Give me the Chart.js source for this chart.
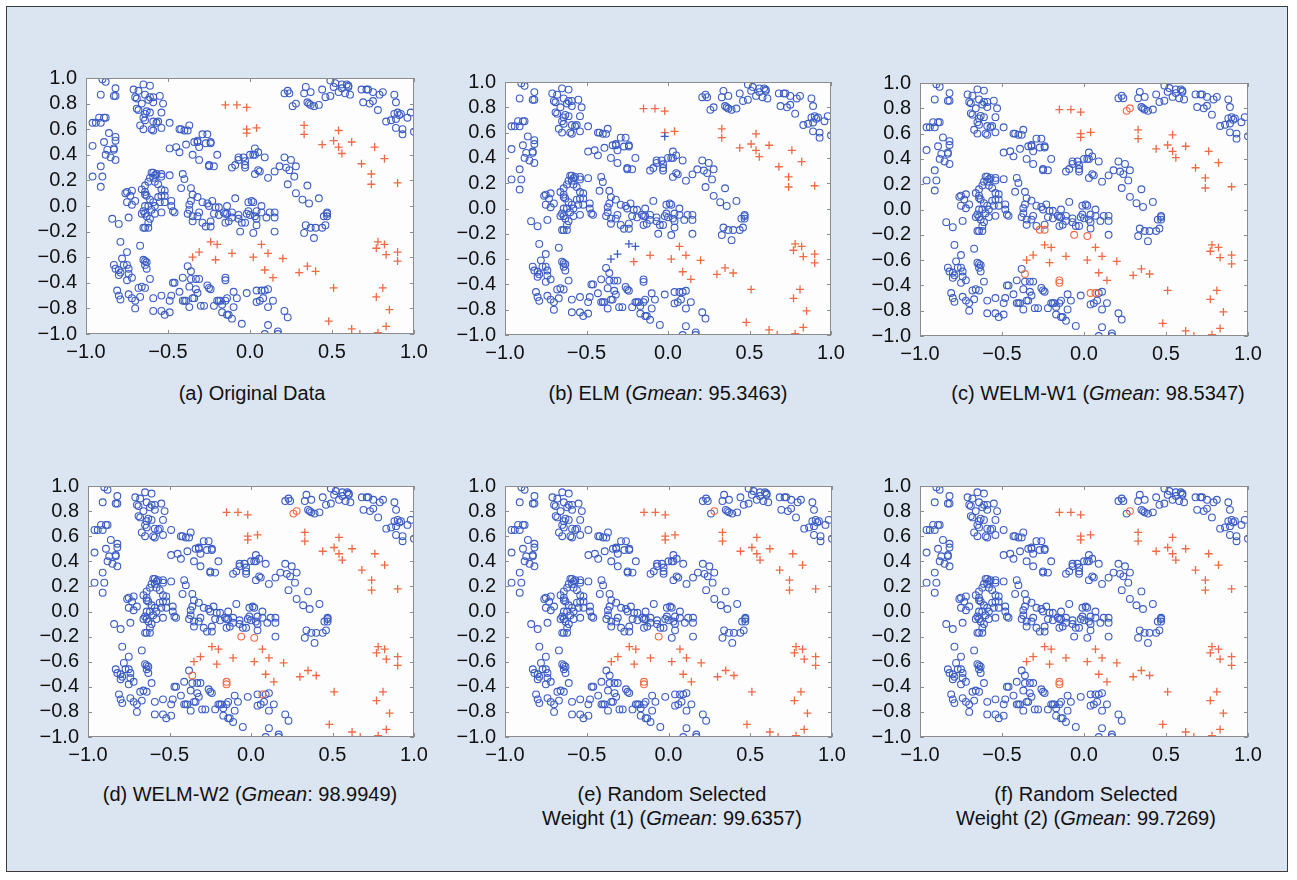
<!DOCTYPE html>
<html>
<head>
<meta charset="utf-8">
<script src="https://cdn.jsdelivr.net/npm/chart.js@4.4.1/dist/chart.umd.min.js"></script>
<style>
  html, body { margin: 0; padding: 0; background: #fff; }
  #page { position: relative; width: 1297px; height: 880px; }
  #frame { position: absolute; left: 6px; top: 6px; width: 1282px; height: 866px;
           background: #dbe4f1; border: 1.5px solid #3c3c3c; box-sizing: border-box; }
  canvas { position: absolute; }
  .cap { position: absolute; width: 400px; text-align: center; color: #111;
         font-family: "Liberation Sans", Arial, Helvetica, sans-serif; font-size: 20px; line-height: 24px; }
</style>
</head>
<body>
<div id="page">
  <div id="frame"></div>
</div>
<script>
// ---- data ----
var xTickValues = [-1, -0.5, 0, 0.5, 1];
var xTickLabels = ['\u22121.0', '\u22120.5', '0.0', '0.5', '1.0'];
var yTickValues = [-1, -0.8, -0.6, -0.4, -0.2, 0, 0.2, 0.4, 0.6, 0.8, 1];
// labels as printed in the figure (bottom to top), including its swapped pair
var yTickLabels = ['\u22121.0', '\u22120.8', '\u22120.4', '\u22120.6', '\u22120.2', '0.0', '0.2', '0.4', '0.6', '0.8', '1.0'];

// majority class (circles)
var majorityPoints = [
  [-0.90,0.99],[-0.88,0.97],[-0.91,0.87],[-0.82,0.92],[-0.83,0.86],[-0.82,0.86],
  [-0.96,0.65],[-0.94,0.65],[-0.91,0.65],[-0.92,0.69],[-0.89,0.69],[-0.88,0.69],
  [-0.86,0.57],[-0.82,0.54],[-0.82,0.51],[-0.96,0.47],[-0.89,0.50],[-0.83,0.45],[-0.83,0.44],[-0.87,0.44],
  [-0.88,0.40],[-0.85,0.38],[-0.82,0.36],[-0.91,0.31],[-0.96,0.23],[-0.90,0.23],[-0.91,0.15],
  [-0.71,0.91],[-0.68,0.90],[-0.65,0.95],[-0.61,0.94],[-0.70,0.85],[-0.69,0.84],[-0.64,0.87],[-0.62,0.83],
  [-0.61,0.85],[-0.59,0.85],[-0.55,0.86],[-0.59,0.81],[-0.53,0.80],[-0.66,0.80],[-0.69,0.76],[-0.68,0.75],
  [-0.63,0.74],[-0.64,0.72],[-0.65,0.69],[-0.64,0.67],[-0.61,0.73],[-0.54,0.73],[-0.67,0.63],[-0.65,0.60],
  [-0.60,0.60],[-0.59,0.59],[-0.59,0.66],[-0.57,0.65],[-0.56,0.66],[-0.49,0.65],[-0.54,0.61],
  [-0.43,0.60],[-0.42,0.60],[-0.40,0.59],[-0.37,0.63],[-0.38,0.59],[-0.49,0.45],[-0.45,0.46],[-0.43,0.42],
  [-0.39,0.48],[-0.35,0.40],[-0.34,0.50],[-0.32,0.51],[-0.32,0.50],[-0.31,0.46],[-0.31,0.36],[-0.29,0.56],
  [-0.27,0.49],[-0.26,0.56],[-0.24,0.50],[-0.24,0.49],[-0.25,0.31],[-0.25,0.32],[-0.22,0.31],[-0.20,0.40],
  [0.21,0.88],[0.23,0.90],[0.24,0.88],[0.33,0.88],[0.34,0.93],[0.37,0.89],[0.35,0.81],[0.36,0.80],
  [0.37,0.79],[0.39,0.78],[0.42,0.79],[0.44,0.91],[0.46,0.85],[0.49,0.86],[0.49,0.98],[0.52,0.96],
  [0.51,0.93],[0.56,0.92],[0.56,0.95],[0.59,0.95],[0.60,0.94],[0.60,0.93],[0.61,0.87],[0.58,0.88],
  [0.54,0.89],[0.68,0.91],[0.71,0.91],[0.72,0.91],[0.75,0.89],[0.79,0.87],[0.81,0.89],[0.69,0.81],
  [0.73,0.80],[0.75,0.82],[0.78,0.75],[0.88,0.87],[0.89,0.81],[0.83,0.66],[0.86,0.67],[0.88,0.72],
  [0.90,0.73],[0.91,0.71],[0.92,0.72],[0.89,0.68],[0.96,0.69],[0.89,0.61],[0.93,0.60],[0.93,0.56],
  [1.00,0.58],[0.98,0.73],[0.26,0.78],[0.28,0.80],
  [-0.11,0.30],[-0.09,0.32],[-0.07,0.38],[-0.07,0.36],[-0.04,0.38],[-0.03,0.32],[-0.03,0.35],[-0.03,0.30],
  [0.00,0.40],[0.02,0.40],[0.03,0.45],[0.03,0.40],[0.05,0.42],[0.03,0.25],[0.05,0.28],[0.06,0.27],
  [0.09,0.38],[0.11,0.22],[0.15,0.27],[0.18,0.31],[0.21,0.38],[0.22,0.30],[0.24,0.28],[0.25,0.36],
  [0.28,0.31],[0.27,0.23],[0.23,0.17],[0.28,0.10],[0.32,0.05],[0.35,0.16],[0.36,0.02],[0.42,0.06],
  [-0.76,0.10],[-0.75,0.11],[-0.72,0.12],[-0.73,0.08],[-0.75,0.03],[-0.70,0.04],[-0.72,0.01],[-0.74,-0.09],
  [-0.84,-0.10],[-0.80,-0.14],[-0.79,-0.28],[-0.67,-0.31],
  [-0.66,0.13],[-0.64,0.11],[-0.64,0.09],[-0.63,0.08],[-0.64,0.16],[-0.62,0.19],[-0.61,0.22],[-0.60,0.26],
  [-0.59,0.26],[-0.58,0.24],[-0.57,0.25],[-0.59,0.22],[-0.54,0.25],[-0.54,0.23],[-0.58,0.19],[-0.56,0.17],
  [-0.54,0.13],[-0.52,0.12],[-0.52,0.08],[-0.54,0.08],[-0.56,0.07],[-0.61,0.05],[-0.59,0.03],[-0.55,0.03],
  [-0.52,0.03],[-0.48,0.04],[-0.48,0.00],[-0.47,-0.04],[-0.46,-0.05],[-0.54,-0.05],[-0.58,-0.06],[-0.62,0.00],
  [-0.64,0.00],[-0.65,-0.04],[-0.66,-0.06],[-0.64,-0.06],[-0.63,-0.08],[-0.61,-0.10],[-0.62,-0.13],[-0.65,-0.17],
  [-0.64,-0.17],[-0.62,-0.17],[-0.60,-0.03],[-0.58,0.00],[-0.49,0.24],
  [-0.41,0.25],[-0.40,0.21],[-0.42,0.14],[-0.36,0.14],[-0.35,0.09],[-0.32,0.07],[-0.36,0.04],[-0.37,0.01],
  [-0.37,-0.03],[-0.38,-0.06],[-0.35,-0.08],[-0.35,-0.12],[-0.32,-0.08],[-0.31,-0.05],[-0.29,-0.13],[-0.29,0.03],
  [-0.26,0.02],[-0.25,0.00],[-0.23,0.04],[-0.21,-0.01],[-0.19,-0.01],[-0.24,-0.12],[-0.22,-0.06],[-0.19,-0.07],
  [-0.14,0.00],[-0.16,-0.05],[-0.15,-0.06],[-0.14,-0.06],[-0.11,-0.05],[-0.13,-0.12],[-0.15,-0.13],[-0.09,0.06],
  [-0.07,-0.07],[-0.07,-0.10],[-0.11,-0.09],[-0.01,0.03],[0.01,0.04],[0.02,0.03],[-0.01,-0.04],[0.00,-0.07],
  [0.03,-0.08],[0.04,-0.10],[0.04,-0.15],[0.07,0.00],[0.07,-0.05],[0.10,-0.09],[-0.03,-0.13],[-0.02,-0.06],
  [0.04,-0.04],[-0.05,-0.13],[0.15,-0.05],[0.15,-0.09],[0.15,-0.20],[0.12,-0.05],
  [-0.27,-0.16],[-0.24,-0.16],[-0.06,-0.20],[0.02,-0.21],
  [0.34,-0.15],[0.33,-0.21],[0.39,-0.25],[0.37,-0.17],[0.40,-0.17],[0.44,-0.17],[0.46,-0.15],[0.45,-0.08],
  [0.47,-0.06],[0.47,-0.08],[0.47,-0.05],
  [-0.75,-0.36],[-0.78,-0.41],[-0.83,-0.46],[-0.82,-0.49],[-0.80,-0.50],[-0.80,-0.54],[-0.79,-0.52],[-0.77,-0.46],
  [-0.75,-0.46],[-0.74,-0.49],[-0.74,-0.53],[-0.75,-0.58],[-0.72,-0.56],[-0.65,-0.42],[-0.63,-0.44],[-0.64,-0.46],
  [-0.63,-0.49],[-0.64,-0.43],[-0.61,-0.57],[-0.66,-0.63],[-0.68,-0.64],[-0.64,-0.64],[-0.81,-0.66],[-0.80,-0.70],
  [-0.79,-0.73],[-0.74,-0.69],[-0.72,-0.72],[-0.70,-0.74],[-0.70,-0.80],[-0.67,-0.71],[-0.59,-0.72],[-0.54,-0.70],
  [-0.59,-0.82],[-0.54,-0.82],[-0.52,-0.85],[-0.49,-0.83],[-0.49,-0.74],[-0.48,-0.70],[-0.47,-0.60],[-0.46,-0.60],
  [-0.41,-0.56],[-0.38,-0.47],[-0.36,-0.57],[-0.33,-0.57],[-0.31,-0.57],[-0.37,-0.63],[-0.33,-0.65],[-0.43,-0.67],
  [-0.41,-0.74],[-0.40,-0.74],[-0.39,-0.74],[-0.35,-0.72],[-0.37,-0.79],[-0.34,-0.72],[-0.32,-0.68],[-0.30,-0.78],
  [-0.28,-0.78],[-0.26,-0.62],[-0.25,-0.64],[-0.24,-0.65],[-0.22,-0.78],[-0.20,-0.74],[-0.19,-0.74],[-0.18,-0.74],
  [-0.15,-0.74],[-0.14,-0.72],[-0.17,-0.77],[-0.17,-0.83],[-0.14,-0.85],[-0.13,-0.85],[-0.11,-0.88],[-0.10,-0.67],
  [-0.08,-0.72],[-0.10,-0.79],[-0.05,-0.92],[-0.02,-0.68],[0.04,-0.75],[0.06,-0.74],[0.08,-0.72],[0.09,-0.66],
  [0.11,-0.65],[0.11,-0.79],[0.14,-0.74],[0.11,-0.93],[0.09,-1.00],[0.17,-0.98],[0.17,-1.00],[0.21,-0.82],
  [0.23,-0.87],[-0.36,-0.51],[-0.15,-0.56],[-0.15,-0.58],[0.04,-0.66],[0.07,-0.66]
];

// minority class (crosses)
var minorityPoints = [
  [-0.15,0.79],[-0.08,0.79],[-0.02,0.77],[-0.02,0.60],[-0.02,0.57],[0.04,0.61],[0.33,0.63],[0.33,0.56],
  [0.44,0.48],[0.51,0.51],[0.54,0.59],[0.54,0.46],[0.56,0.41],[0.62,0.50],[0.68,0.33],[0.76,0.46],
  [0.82,0.37],[0.74,0.25],[0.74,0.17],[0.90,0.18],
  [-0.24,-0.28],[-0.20,-0.30],[-0.31,-0.36],[-0.35,-0.40],[-0.21,-0.42],[-0.11,-0.37],[0.02,-0.40],[0.07,-0.30],
  [0.11,-0.37],[0.09,-0.50],[0.14,-0.56],[0.20,-0.41],[0.30,-0.52],[0.35,-0.47],[0.40,-0.51],[0.51,-0.64],
  [0.78,-0.28],[0.77,-0.33],[0.82,-0.30],[0.83,-0.38],[0.90,-0.36],[0.90,-0.43],[0.81,-0.64],[0.77,-0.71],
  [0.85,-0.81],[0.48,-0.90],[0.62,-0.96],[0.67,-1.00],[0.78,-0.99],[0.83,-0.94]
];

// minority points predicted as majority (blue crosses), per classifier
var elmMissedMinority = [[-0.24,-0.28],[-0.20,-0.30],[-0.31,-0.36],[-0.35,-0.40],[-0.02,0.57]];

// majority points predicted as minority (orange circles), per classifier
var welmW1FalseMinority = [[0.26,0.78],[0.28,0.80],[-0.27,-0.16],[-0.24,-0.16],[-0.06,-0.20],[0.02,-0.21],
                           [-0.36,-0.51],[-0.15,-0.56],[-0.15,-0.58],[0.04,-0.66],[0.07,-0.66]];
var welmW2FalseMinority = [[0.26,0.78],[0.28,0.80],[-0.06,-0.20],[0.02,-0.21],[-0.36,-0.51],
                           [-0.15,-0.56],[-0.15,-0.58],[0.07,-0.66]];
var random1FalseMinority = [[0.28,0.80],[-0.06,-0.20],[-0.15,-0.56],[-0.15,-0.58]];
var random2FalseMinority = [[0.28,0.80],[-0.15,-0.56],[-0.15,-0.58]];

var captions = [
  ['(a) Original Data'],
  ['(b) ELM (<i>Gmean</i>: 95.3463)'],
  ['(c) WELM-W1 (<i>Gmean</i>: 98.5347)'],
  ['(d) WELM-W2 (<i>Gmean</i>: 98.9949)'],
  ['(e) Random Selected', 'Weight (1) (<i>Gmean</i>: 99.6357)'],
  ['(f) Random Selected', 'Weight (2) (<i>Gmean</i>: 99.7269)']
];

// ---- layout ----
var BLUE = '#3b5cc4';
var ORANGE = '#f06a44';
var FONT = '"Liberation Sans", Arial, Helvetica, sans-serif';
var padL = 66, padT = 14, padR = 24, padB = 34;

var panels = [
  { plot: [86, 71, 328, 263],  cap: [252, 381], missed: [], falseMin: [] },
  { plot: [505, 75, 326, 260], cap: [668, 381], missed: elmMissedMinority, falseMin: [] },
  { plot: [920, 76, 328, 260], cap: [1098, 381], missed: [], falseMin: welmW1FalseMinority },
  { plot: [88, 479, 326, 258], cap: [250, 782], missed: [], falseMin: welmW2FalseMinority },
  { plot: [505, 479, 327, 258], cap: [672, 782], missed: [], falseMin: random1FalseMinority },
  { plot: [920, 479, 328, 258], cap: [1086, 782], missed: [], falseMin: random2FalseMinority }
];

function toXY(list) {
  return list.map(function (p) { return { x: p[0], y: p[1] }; });
}
function notIn(list, exclude) {
  return list.filter(function (p) {
    return !exclude.some(function (q) { return q[0] === p[0] && q[1] === p[1]; });
  });
}

// white plot area, grey box and inward MATLAB-style ticks
var boxPlugin = {
  id: 'box',
  beforeDatasetsDraw: function (chart) {
    var a = chart.chartArea, ctx = chart.ctx;
    ctx.save();
    ctx.fillStyle = '#fdfdfe';
    ctx.fillRect(a.left, a.top, a.right - a.left, a.bottom - a.top);
    ctx.restore();
  },
  afterDraw: function (chart) {
    var a = chart.chartArea, ctx = chart.ctx;
    var sx = chart.scales.x, sy = chart.scales.y;
    ctx.save();
    ctx.strokeStyle = '#8c8c8c';
    ctx.lineWidth = 1;
    ctx.strokeRect(Math.round(a.left) + 0.5, Math.round(a.top) + 0.5,
                   Math.round(a.right - a.left) - 1, Math.round(a.bottom - a.top) - 1);
    ctx.beginPath();
    sx.ticks.forEach(function (t) {
      var px = Math.round(sx.getPixelForValue(t.value)) + 0.5;
      ctx.moveTo(px, a.bottom); ctx.lineTo(px, a.bottom - 4);
      ctx.moveTo(px, a.top); ctx.lineTo(px, a.top + 4);
    });
    sy.ticks.forEach(function (t) {
      var py = Math.round(sy.getPixelForValue(t.value)) + 0.5;
      ctx.moveTo(a.left, py); ctx.lineTo(a.left + 4, py);
      ctx.moveTo(a.right, py); ctx.lineTo(a.right - 4, py);
    });
    ctx.stroke();
    ctx.restore();
  }
};

var page = document.getElementById('page');

panels.forEach(function (pn, i) {
  var L = pn.plot[0], T = pn.plot[1], W = pn.plot[2], H = pn.plot[3];
  var cv = document.createElement('canvas');
  cv.width = W + padL + padR;
  cv.height = H + padT + padB;
  cv.style.left = (L - padL) + 'px';
  cv.style.top = (T - padT) + 'px';
  page.appendChild(cv);

  var blueCircles = notIn(majorityPoints, pn.falseMin);
  var orangeCrosses = notIn(minorityPoints, pn.missed);

  new Chart(cv.getContext('2d'), {
    type: 'scatter',
    data: {
      datasets: [
        { data: toXY(pn.falseMin), pointStyle: 'circle', pointRadius: 3.4, borderWidth: 1.1,
          borderColor: ORANGE, backgroundColor: 'rgba(0,0,0,0)' },
        { data: toXY(pn.missed), pointStyle: 'cross', pointRadius: 4, borderWidth: 1.3,
          borderColor: BLUE, backgroundColor: BLUE },
        { data: toXY(orangeCrosses), pointStyle: 'cross', pointRadius: 4, borderWidth: 1.3,
          borderColor: ORANGE, backgroundColor: ORANGE },
        { data: toXY(blueCircles), pointStyle: 'circle', pointRadius: 3.4, borderWidth: 1.1,
          borderColor: BLUE, backgroundColor: 'rgba(0,0,0,0)' }
      ]
    },
    options: {
      responsive: false,
      animation: false,
      devicePixelRatio: 1,
      layout: { padding: { left: 0, top: padT, right: padR, bottom: 0 } },
      plugins: { legend: { display: false }, tooltip: { enabled: false } },
      elements: { point: { hoverRadius: 3.4 } },
      scales: {
        x: {
          type: 'linear', min: -1, max: 1,
          afterBuildTicks: function (s) { s.ticks = xTickValues.map(function (v) { return { value: v }; }); },
          afterFit: function (s) { s.height = padB; },
          grid: { display: false, drawTicks: false },
          border: { display: false },
          ticks: { padding: 6, color: '#111', font: { family: FONT, size: 20 }, maxRotation: 0,
                   autoSkip: false, callback: function (v, idx) { return xTickLabels[idx]; } }
        },
        y: {
          type: 'linear', min: -1, max: 1,
          afterBuildTicks: function (s) { s.ticks = yTickValues.map(function (v) { return { value: v }; }); },
          afterFit: function (s) { s.width = padL; },
          grid: { display: false, drawTicks: false },
          border: { display: false },
          ticks: { padding: 9, color: '#111', font: { family: FONT, size: 20 },
                   autoSkip: false, callback: function (v, idx) { return yTickLabels[idx]; } }
        }
      }
    },
    plugins: [boxPlugin]
  });

  var cap = document.createElement('div');
  cap.className = 'cap';
  cap.style.left = (pn.cap[0] - 200) + 'px';
  cap.style.top = pn.cap[1] + 'px';
  cap.innerHTML = captions[i].join('<br>');
  page.appendChild(cap);
});
</script>
</body>
</html>
